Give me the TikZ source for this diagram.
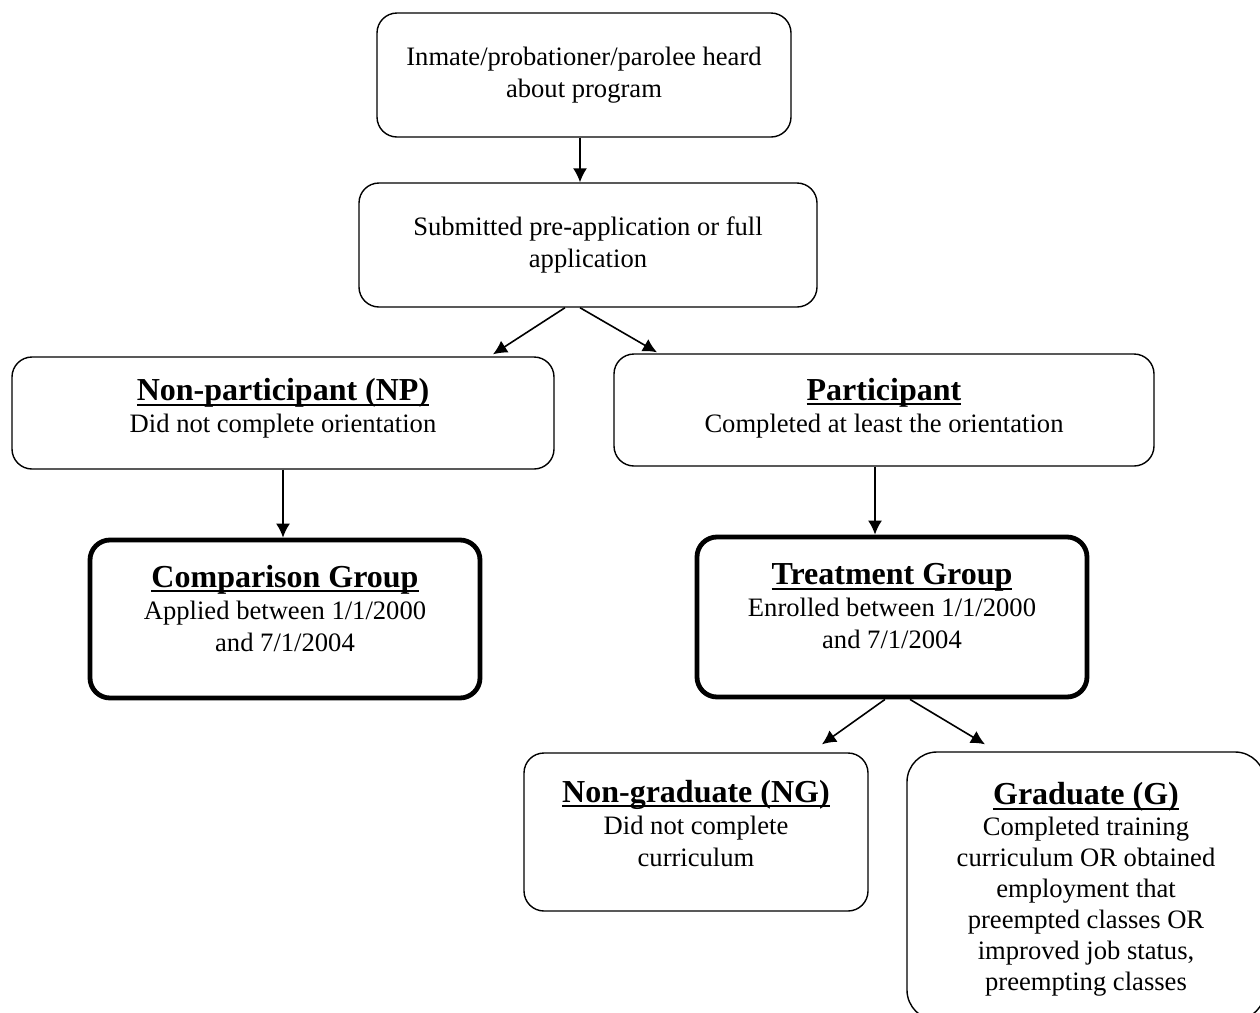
\documentclass[tikz,border=0pt]{standalone}
\usepackage{fontspec}
\setmainfont{Liberation Serif}
\usepackage{tikz}
\usetikzlibrary{
  arrows.meta,
  calc
}

% bold header, underlined through the descenders
\newcommand{\hdr}[1]{{\fontsize{16}{18}\selectfont\bfseries
  \setbox0\hbox{#1}\rlap{\rule[-2.5pt]{\wd0}{0.9pt}}\box0}}
% invisible struts to nudge the text up or down in its box
\newcommand{\dn}[1]{\rule[-#1]{0pt}{1pt}}
\newcommand{\up}[1]{\rule{0pt}{#1}}

\begin{document}
\begin{tikzpicture}[
    x=0.5pt, y=-0.5pt,
    >={Latex[length=7pt,width=7pt]},
    box/.style={draw, line width=0.7pt, rounded corners=10pt,
      align=center, inner sep=0pt,
      font=\fontsize{13.3}{16}\selectfont},
    grpbox/.style={box, line width=2.4pt},
    arr/.style={->, line width=0.8pt}
    ]

    \useasboundingbox (0,0) rectangle (1260,1013);

    % top part
    \node[box, minimum width=207pt, minimum height=62pt] (heard) at (584,75)
    {Inmate/probationer/parolee heard\\about program};

    \node[box, minimum width=229pt, minimum height=62pt] (applied) at (588,245)
    {Submitted pre-application or full\\application};

    % split
    \node[box, minimum width=271pt, minimum height=56pt] (np) at (283,413)
    {\hdr{Non-participant (NP)}\\Did not complete orientation\dn{7.5pt}};

    \node[box, minimum width=270pt, minimum height=56pt] (part) at (884,410)
    {\hdr{Participant}\\Completed at least the orientation\dn{5pt}};

    % groups
    \node[grpbox, minimum width=195pt, minimum height=79pt] (comp) at (285,619)
    {\hdr{Comparison Group}\\Applied between 1/1/2000\\and 7/1/2004\dn{11pt}};

    \node[grpbox, minimum width=195pt, minimum height=80pt] (treat) at (892,617)
    {\hdr{Treatment Group}\\Enrolled between 1/1/2000\\and 7/1/2004\dn{11pt}};

    % outcomes
    \node[box, minimum width=172pt, minimum height=79pt] (ng) at (696,832)
    {\hdr{Non-graduate (NG)}\\Did not complete\\curriculum\dn{9pt}};

    \node[box, rounded corners=15pt, minimum width=179pt, minimum height=134pt,
      font=\fontsize{13.3}{15.5}\selectfont] (grad) at (1086,886)
    {\up{14.5pt}\hdr{Graduate (G)}\\Completed training\\curriculum OR obtained\\employment that\\preempted classes OR\\improved job status,\\preempting classes};

    \draw[arr] ([shift={(-4,0)}]heard.south) -- ([shift={(-8,0)}]applied.north);
    \draw[arr] ([shift={(-23,0)}]applied.south) -- ([shift={(210,-2)}]np.north);
    \draw[arr] ([shift={(-8,0)}]applied.south) -- ([shift={(-227,-1)}]part.north);
    \draw[arr] (np.south) -- (np.south |- comp.north);
    \draw[arr] ([shift={(-9,0)}]part.south) -- ([shift={(-9,0)}]part.south |- treat.north);
    \draw[arr] ([shift={(-7,0)}]treat.south) -- ([shift={(126,-8)}]ng.north);
    \draw[arr] ([shift={(18,0)}]treat.south) -- ([shift={(-101,-7)}]grad.north);

\end{tikzpicture}
\end{document}
